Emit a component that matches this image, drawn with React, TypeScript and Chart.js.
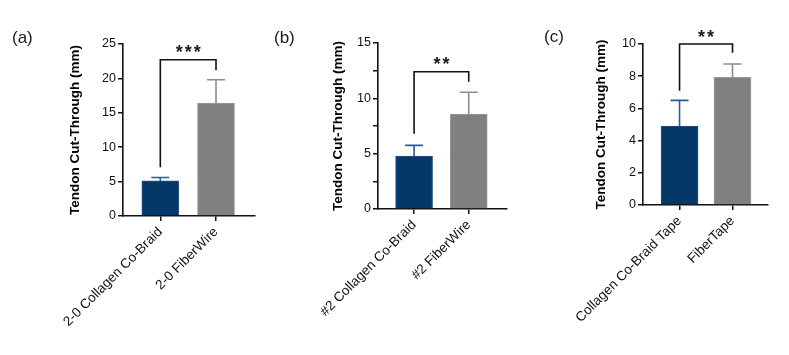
import React, { useEffect, useRef } from 'react';
import { Chart, registerables } from 'chart.js';

Chart.register(...registerables);

// ---------- Data ----------
const categoriesA = ['2-0 Collagen Co-Braid', '2-0 FiberWire'];
const meansA = [5.1, 16.4];
const errTopA = [5.6, 19.8];
const bracketA = [22.7, 7.1, 21.2]; // [bracket height, left end, right end]
const starsA = '***';
const yTicksA = [0, 5, 10, 15, 20, 25];

const categoriesB = ['#2 Collagen Co-Braid', '#2 FiberWire'];
const meansB = [4.78, 8.58];
const errTopB = [5.75, 10.55];
const bracketB = [12.4, 6.8, 11.5];
const starsB = '**';
const yTicksB = [0, 2.5, 5, 7.5, 10, 12.5, 15];
const yLabelsB = ['0', '', '5', '', '10', '', '15'];

const categoriesC = ['Collagen Co-Braid Tape', 'FiberTape'];
const meansC = [4.9, 7.93];
const errTopC = [6.5, 8.76];
const bracketC = [10.0, 7.1, 9.45];
const starsC = '**';
const yTicksC = [0, 2, 4, 6, 8, 10];

const panelLetters = ['(a)', '(b)', '(c)'];
const yTitle = 'Tendon Cut-Through (mm)';

const barColors = ['#063769', '#808080'];
const barEdge = ['#2a5585', '#9a9a9a'];
const errColors = ['#2b5a94', '#8c8c8c'];

const FONT = "'Liberation Sans', Arial, Helvetica, sans-serif";
const CANVAS_W = 263;
const CANVAS_H = 355;

type PanelCfg = {
  canvasLeft: number;
  axisLeft: number;
  areaRight: number;
  areaTop: number;
  areaBottom: number;
  categories: string[];
  means: number[];
  errTop: number[];
  bracket: number[];
  stars: string;
  yTicks: number[];
  yLabels?: string[];
  xMin: number;
  xMax: number;
};

const panels: PanelCfg[] = [
  {
    canvasLeft: 0, axisLeft: 123, areaRight: 255, areaTop: 44, areaBottom: 216,
    categories: categoriesA, means: meansA, errTop: errTopA, bracket: bracketA,
    stars: starsA, yTicks: yTicksA, xMin: -0.67, xMax: 1.7,
  },
  {
    canvasLeft: 263, axisLeft: 378, areaRight: 507, areaTop: 43, areaBottom: 209,
    categories: categoriesB, means: meansB, errTop: errTopB, bracket: bracketB,
    stars: starsB, yTicks: yTicksB, yLabels: yLabelsB, xMin: -0.66, xMax: 1.7,
  },
  {
    canvasLeft: 526, axisLeft: 643, areaRight: 768, areaTop: 44, areaBottom: 205,
    categories: categoriesC, means: meansC, errTop: errTopC, bracket: bracketC,
    stars: starsC, yTicks: yTicksC, xMin: -0.69, xMax: 1.67,
  },
];

function Panel({ cfg }: { cfg: PanelCfg }) {
  const ref = useRef<HTMLCanvasElement | null>(null);
  useEffect(() => {
    if (!ref.current) return;
    const yMax = cfg.yTicks[cfg.yTicks.length - 1];
    const titleFontSize = 13.5;
    const titleCenter = 75; // distance of y-title center from canvas left
    const overlay = {
      id: 'errorsAndBracket',
      afterDatasetsDraw(chart: any) {
        const { ctx } = chart;
        const xs = chart.scales.x;
        const ys = chart.scales.y;
        ctx.save();
        // error bars (upper only)
        cfg.means.forEach((m, i) => {
          const x = xs.getPixelForValue(i);
          const y1 = ys.getPixelForValue(m);
          const y2 = ys.getPixelForValue(cfg.errTop[i]);
          ctx.strokeStyle = errColors[i];
          ctx.lineWidth = 1.6;
          ctx.beginPath();
          ctx.moveTo(x, y1);
          ctx.lineTo(x, y2);
          ctx.moveTo(x - 9, y2);
          ctx.lineTo(x + 9, y2);
          ctx.stroke();
        });
        // significance bracket
        const x0 = xs.getPixelForValue(0);
        const x1 = xs.getPixelForValue(1);
        const yb = ys.getPixelForValue(cfg.bracket[0]);
        ctx.strokeStyle = '#111';
        ctx.lineWidth = 1.6;
        ctx.beginPath();
        ctx.moveTo(x0, ys.getPixelForValue(cfg.bracket[1]));
        ctx.lineTo(x0, yb);
        ctx.lineTo(x1, yb);
        ctx.lineTo(x1, ys.getPixelForValue(cfg.bracket[2]));
        ctx.stroke();
        // stars, spaced evenly, centered over the bracket
        ctx.fillStyle = '#1a1a1a';
        ctx.font = `bold 18px ${FONT}`;
        ctx.textAlign = 'center';
        ctx.textBaseline = 'alphabetic';
        const n = cfg.stars.length;
        const gap = 9;
        const cx = (x0 + x1) / 2;
        for (let k = 0; k < n; k++) {
          const sx = cx + (k - (n - 1) / 2) * gap;
          ctx.fillText(cfg.stars[k], sx, yb - 1.5);
        }
        ctx.restore();
      },
    };

    const chart = new Chart(ref.current, {
      type: 'bar',
      data: {
        datasets: [
          {
            data: cfg.means.map((m, i) => ({ x: i, y: m })),
            backgroundColor: barColors,
            borderColor: barEdge,
            borderWidth: 1,
            barThickness: 37,
          } as any,
        ],
      },
      options: {
        animation: false,
        responsive: false,
        maintainAspectRatio: false,
        layout: {
          padding: { top: cfg.areaTop, right: cfg.canvasLeft + CANVAS_W - cfg.areaRight, bottom: 0, left: 0 },
        },
        plugins: { legend: { display: false }, tooltip: { enabled: false } },
        scales: {
          x: {
            type: 'linear',
            offset: false,
            min: cfg.xMin,
            max: cfg.xMax,
            grid: { display: true, offset: false, drawOnChartArea: false, drawTicks: true, tickLength: 5, color: '#111', lineWidth: 1.5 },
            border: { display: true, color: '#111', width: 1.6 },
            afterBuildTicks: (s: any) => {
              s.ticks = [{ value: 0 }, { value: 1 }];
            },
            afterFit: (s: any) => {
              s.height = CANVAS_H - cfg.areaBottom;
            },
            ticks: {
              autoSkip: false,
              minRotation: 45,
              maxRotation: 45,
              padding: 3,
              color: '#111',
              font: { family: FONT, size: 13.5 },
              callback: (v: any) => cfg.categories[v] ?? '',
            },
          },
          y: {
            type: 'linear',
            min: 0,
            max: yMax,
            afterBuildTicks: (s: any) => {
              s.ticks = cfg.yTicks.map((v) => ({ value: v }));
            },
            afterFit: (s: any) => {
              s.width = cfg.axisLeft - cfg.canvasLeft;
            },
            grid: { display: true, drawOnChartArea: false, drawTicks: true, tickLength: 5, color: '#111', lineWidth: 1.5 },
            border: { display: true, color: '#111', width: 1.6 },
            ticks: {
              autoSkip: false,
              padding: 2,
              color: '#111',
              font: { family: FONT, size: 12.5 },
              callback: (v: any, i: number) => (cfg.yLabels ? cfg.yLabels[i] : String(v)),
            },
            title: {
              display: true,
              text: yTitle,
              color: '#000',
              font: { family: FONT, size: titleFontSize, weight: 'bold' },
              padding: { top: titleCenter - (titleFontSize * 1.2) / 2, bottom: 0 },
            },
          },
        },
      },
      plugins: [overlay],
    } as any);
    return () => chart.destroy();
  }, [cfg]);

  return (
    <canvas
      ref={ref}
      width={CANVAS_W}
      height={CANVAS_H}
      style={{ position: 'absolute', left: cfg.canvasLeft, top: 0, width: CANVAS_W, height: CANVAS_H }}
    />
  );
}

const letterPos = [
  { left: 12, top: 28 },
  { left: 274, top: 28 },
  { left: 544, top: 27 },
];

export default function App() {
  return (
    <div style={{ position: 'absolute', left: 0, top: 0, width: 789, height: 355, background: '#fff', overflow: 'hidden' }}>
      {panels.map((p, i) => (
        <Panel key={i} cfg={p} />
      ))}
      {panelLetters.map((t, i) => (
        <div
          key={t}
          style={{
            position: 'absolute',
            left: letterPos[i].left,
            top: letterPos[i].top,
            fontFamily: FONT,
            fontSize: 17,
            lineHeight: '20px',
            color: '#1a1a1a',
          }}
        >
          {t}
        </div>
      ))}
    </div>
  );
}
